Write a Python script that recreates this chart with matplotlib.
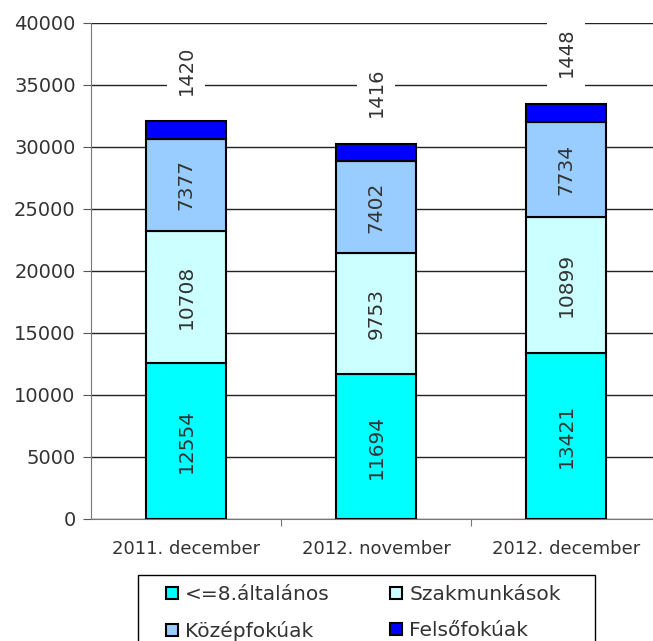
import numpy as np
import matplotlib.pyplot as plt
from matplotlib.patches import Rectangle

# Data
categories = ['2011. december', '2012. november', '2012. december']
series_names = ['<=8.általános', 'Szakmunkások', 'Középfokúak', 'Felsőfokúak']
altalanos = [12554, 11694, 13421]
szakmunkas = [10708, 9753, 10899]
kozepfoku = [7377, 7402, 7734]
felsofoku = [1420, 1416, 1448]
colors = ['#00FFFF', '#CCFFFF', '#99CCFF', '#0000FF']

fig = plt.figure(figsize=(6.53, 6.41), dpi=100)
ax = fig.add_axes([91 / 653, 1 - 519 / 641, 570 / 653, 496 / 641])

x = np.arange(len(categories))
bottom = np.zeros(len(categories))
all_series = [altalanos, szakmunkas, kozepfoku, felsofoku]
handles = []
for i, (name, vals) in enumerate(zip(series_names, all_series)):
    vals = np.array(vals)
    h = ax.bar(x, vals, width=0.42, bottom=bottom, color=colors[i],
               edgecolor='black', linewidth=1.5, label=name, zorder=3)
    handles.append(h)
    if i < 3:
        for xi, b, v in zip(x, bottom, vals):
            ax.text(xi, b + v / 2, str(v), rotation=90, ha='center', va='center',
                    fontsize=14.5, color='#333333', zorder=4)
    else:
        for xi, b, v in zip(x, bottom, vals):
            ax.annotate(str(v), (xi, b + v), xytext=(0, 19), textcoords='offset points',
                        rotation=90, ha='center', va='bottom', fontsize=14, color='#333333',
                        bbox=dict(facecolor='white', edgecolor='none', pad=7), zorder=4)
    bottom += vals

ax.set_xlim(-0.5, 2.5)
ax.set_ylim(0, 40000)
ax.set_yticks(np.arange(0, 40001, 5000))
ax.yaxis.grid(True, color='#222222', linewidth=1)
ax.set_axisbelow(True)
ax.set_xticks([0.5, 1.5], minor=False)
ax.set_xticklabels([])
ax.set_xticks(x, minor=True)
ax.set_xticklabels(categories, minor=True, fontsize=13, color='#333333')
ax.tick_params(axis='x', which='minor', length=0, pad=15)
ax.tick_params(axis='x', which='major', length=5, color='#777777')
ax.tick_params(axis='y', labelsize=14, labelcolor='#333333', length=6, color='#555555', pad=5)
for s in ['top', 'right']:
    ax.spines[s].set_visible(False)
ax.spines['left'].set_color('#777777')
ax.spines['bottom'].set_color('#777777')

# legend box (runs off the bottom of the image)
fig.patches.append(Rectangle((138 / 653, -0.05), (595 - 138) / 653, 0.05 + 1 - 575 / 641,
                             transform=fig.transFigure, facecolor='white',
                             edgecolor='black', linewidth=1))

# legend fills column-wise, so reorder to get row-wise order
order = [0, 2, 1, 3]
leg = fig.legend([handles[k] for k in order], [series_names[k] for k in order],
                 loc='upper left', bbox_to_anchor=(166 / 653, 1 - 585 / 641), ncol=2,
                 fontsize=14.5, frameon=False,
                 handlelength=0.6, handleheight=0.6, handletextpad=0.35,
                 columnspacing=3.0, borderpad=0, borderaxespad=0, labelspacing=0.85)
for t in leg.get_texts():
    t.set_color('#333333')

fig.savefig('out.png', dpi=100)
